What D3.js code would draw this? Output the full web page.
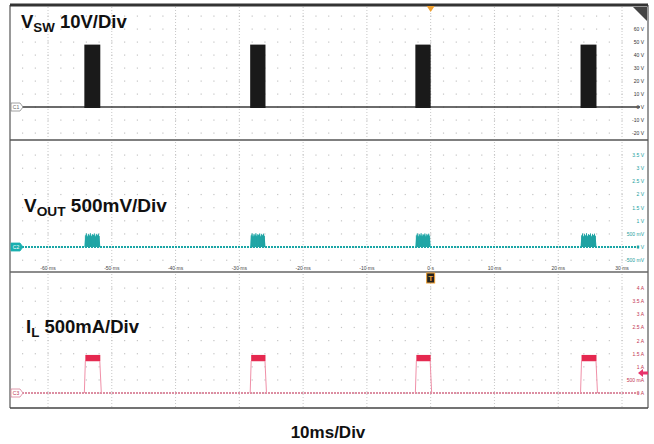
<!DOCTYPE html>
<html><head><meta charset="utf-8">
<script src="https://cdn.jsdelivr.net/npm/d3@7/dist/d3.min.js"></script>
<style>body{margin:0;background:#fff}svg{display:block;font-family:"Liberation Sans",Arial,sans-serif}</style>
</head><body><svg id="c" width="654" height="444"></svg>
<script>
// ---------- data ----------
const timeTicks = [-60,-50,-40,-30,-20,-10,0,10,20,30];
const timeTickLabels = ["-60 ms","-50 ms","-40 ms","-30 ms","-20 ms","-10 ms","0 s","10 ms","20 ms","30 ms"];
const minorTicks = [-64,-62,-60,-58,-56,-54,-52,-50,-48,-46,-44,-42,-40,-38,-36,-34,-32,-30,-28,-26,-24,-22,-20,-18,-16,-14,-12,-10,-8,-6,-4,-2,0,2,4,6,8,10,12,14,16,18,20,22,24,26,28,30];
const burstStart = [-54.3,-28.3,-2.4,23.5];   // ms
const burstEnd   = [-51.8,-25.9, 0.0,26.0];   // ms
const vswLevels = [70,60,50,40,30,20,10,0,-10,-20];
const vswLabels = ["","60 V","50 V","40 V","30 V","20 V","10 V","0 V","-10 V","-20 V"];
const vswHigh = 48;                            // V
const voutLevels = [3.5,3,2.5,2,1.5,1,0.5,0,-0.5];
const voutLabels = ["3.5 V","3 V","2.5 V","2 V","1.5 V","1 V","500 mV","0 V","-500 mV"];
const voutRipple = [0.05,0.44,0.52,0.40,0.50,0.43,0.53,0.41,0.49,0.45,0.52,0.40,0.50,0.44,0.51,0.42,0.05]; // V, burst top
const ilLevels = [4,3.5,3,2.5,2,1.5,1,0.5,0];
const ilLabels = ["4 A","3.5 A","3 A","2.5 A","2 A","1.5 A","1 A","500 mA","0 A"];
const ilBandLow = 1.22, ilBandHigh = 1.45;    // A

// ---------- scales ----------
const svg = d3.select("#c");
const x = d3.scaleLinear().domain([-60,30]).range([48,622]);
const y1 = d3.scaleLinear().domain([0,60]).range([107,29]);
const y2 = d3.scaleLinear().domain([0,3.5]).range([247,155]);
const y3 = d3.scaleLinear().domain([0,4]).range([393,288]);
const L = 10, R = 648;
const panels = [
  {top:5, bot:140, y:y1, levels:vswLevels, labels:vswLabels, col:"#333"},
  {top:140, bot:272, y:y2, levels:voutLevels, labels:voutLabels, col:"#1a9e9e"},
  {top:272, bot:408, y:y3, levels:ilLevels, labels:ilLabels, col:"#c2344f"}
];

// grid
panels.forEach(p=>{
  const g = svg.append("g");
  timeTicks.forEach(t=>{
    g.append("line").attr("x1",x(t)).attr("x2",x(t)).attr("y1",p.top+2).attr("y2",p.bot-1)
      .attr("stroke","#c8c8c8").attr("stroke-width",1).attr("stroke-dasharray","1,2");
  });
  p.levels.forEach(v=>{
    minorTicks.forEach(t=>{
      g.append("rect").attr("x",x(t)-0.5).attr("y",p.y(v)-0.5).attr("width",1.2).attr("height",1.2).attr("fill","#c4c4c4");
    });
  });
  // right labels
  p.levels.forEach((v,i)=>{
    if (!p.labels[i]) return;
    g.append("text").attr("x",R-4).attr("y",p.y(v)+2).attr("text-anchor","end")
      .attr("font-size",5).attr("fill",p.col).text(p.labels[i]);
  });
});

// time labels
svg.append("g").selectAll("text").data(timeTicks).join("text")
  .attr("x",d=>x(d)).attr("y",270).attr("text-anchor","middle").attr("font-size",5).attr("fill","#444")
  .text((d,i)=>timeTickLabels[i]);

// ---------- traces ----------
// VSW
svg.append("line").attr("x1",L+12).attr("x2",R-8).attr("y1",y1(0)).attr("y2",y1(0)).attr("stroke","#3a3a3a").attr("stroke-width",1.6);
svg.append("g").selectAll("rect").data(burstStart).join("rect")
  .attr("x",d=>x(d)).attr("width",(d,i)=>x(burstEnd[i])-x(d))
  .attr("y",y1(vswHigh)).attr("height",y1(0)-y1(vswHigh)+1).attr("fill","#1a1a1a");

// VOUT
svg.append("line").attr("x1",L+12).attr("x2",R-8).attr("y1",y2(0)).attr("y2",y2(0))
  .attr("stroke","#1aa6a6").attr("stroke-width",1.8).attr("stroke-dasharray","2,1");
burstStart.forEach((s,i)=>{
  const e = burstEnd[i];
  const pts = voutRipple.map((v,k)=>[s+(e-s)*k/(voutRipple.length-1), v]);
  const area = d3.area().x(d=>x(d[0])).y0(y2(0)).y1(d=>y2(d[1]));
  svg.append("path").attr("d",area(pts)).attr("fill","#3cc4c4");
  pts.slice(1,-1).forEach(d=>{
    svg.append("line").attr("x1",x(d[0])).attr("x2",x(d[0])).attr("y1",y2(0)).attr("y2",y2(d[1]))
      .attr("stroke","#139393").attr("stroke-width",0.7);
  });
});

// IL
svg.append("line").attr("x1",L+12).attr("x2",R-8).attr("y1",y3(0)).attr("y2",y3(0))
  .attr("stroke","#dc8ea2").attr("stroke-width",1.8).attr("stroke-dasharray","2,1");
burstStart.forEach((s,i)=>{
  const e = burstEnd[i];
  svg.append("path").attr("d",d3.line()([[x(s),y3(0)],[x(s)+1,y3(ilBandLow)],[x(e)-0.5,y3(ilBandLow)],[x(e)+1,y3(0)]]))
    .attr("fill","none").attr("stroke","#f090a8").attr("stroke-width",1);
  svg.append("rect").attr("x",x(s)+1).attr("width",x(e)-x(s)-1).attr("y",y3(ilBandHigh))
    .attr("height",y3(ilBandLow)-y3(ilBandHigh)).attr("fill","#e5284f");
});

// ---------- frame ----------
svg.append("line").attr("x1",L).attr("x2",L).attr("y1",5).attr("y2",408).attr("stroke","#555").attr("stroke-width",1.2);
svg.append("line").attr("x1",R).attr("x2",R).attr("y1",5).attr("y2",408).attr("stroke","#555").attr("stroke-width",1.2);
svg.append("line").attr("x1",L).attr("x2",R).attr("y1",5).attr("y2",5).attr("stroke","#333").attr("stroke-width",3);
svg.append("line").attr("x1",L).attr("x2",R).attr("y1",140).attr("y2",140).attr("stroke","#555").attr("stroke-width",1.6);
svg.append("line").attr("x1",L).attr("x2",R).attr("y1",272).attr("y2",272).attr("stroke","#666").attr("stroke-width",1.4);
svg.append("line").attr("x1",L).attr("x2",R).attr("y1",408).attr("y2",408).attr("stroke","#444").attr("stroke-width",1.4);

// corner triangle
svg.append("path").attr("d","M633,7 L647,7 L647,21 Z").attr("fill","#444");
// trigger markers
svg.append("path").attr("d",`M${x(0)-4},6 L${x(0)+4},6 L${x(0)},12 Z`).attr("fill","#f0a030");
svg.append("rect").attr("x",x(0)-4).attr("y",273).attr("width",8).attr("height",10).attr("fill","#222").attr("stroke","#f0a030").attr("stroke-width",1);
svg.append("text").attr("x",x(0)).attr("y",281).attr("text-anchor","middle").attr("font-size",8).attr("font-weight","bold").attr("fill","#f0a030").text("T");
// IL offset arrow
svg.append("path").attr("d","M638,373 L643,369 L643,371.5 L648,371.5 L648,374.5 L643,374.5 L643,377 Z").attr("fill","#e8336b");

// channel tags
const tags = [{y:y1(0),t:"C1",fill:"#fff",stroke:"#888",tc:"#666"},{y:y2(0),t:"C2",fill:"#1ab0b0",stroke:"#1ab0b0",tc:"#fff"},{y:y3(0),t:"C3",fill:"#fff",stroke:"#d98098",tc:"#c2344f"}];
tags.forEach(d=>{
  svg.append("path").attr("d",`M11,${d.y-4} L20,${d.y-4} L23,${d.y} L20,${d.y+4} L11,${d.y+4} Z`)
    .attr("fill",d.fill).attr("stroke",d.stroke).attr("stroke-width",0.8);
  svg.append("text").attr("x",16).attr("y",d.y+2).attr("text-anchor","middle").attr("font-size",5).attr("fill",d.tc).text(d.t);
});

// ---------- titles ----------
function title(xp, yp, fs, main, sub, rest){
  const t = svg.append("text").attr("x",xp).attr("y",yp).attr("font-size",fs).attr("font-weight","bold").attr("fill","#111");
  t.append("tspan").text(main);
  t.append("tspan").attr("font-size",fs*0.72).attr("dy",4).text(sub);
  t.append("tspan").attr("dy",-4).text(" "+rest);
}
title(21,28,18.5,"V","SW","10V/Div");
title(24,212,19,"V","OUT","500mV/Div");
title(26,333,18.5,"I","L","500mA/Div");
svg.append("text").attr("x",328).attr("y",438).attr("text-anchor","middle").attr("font-size",17).attr("font-weight","bold").attr("fill","#111").text("10ms/Div");
</script></body></html>
